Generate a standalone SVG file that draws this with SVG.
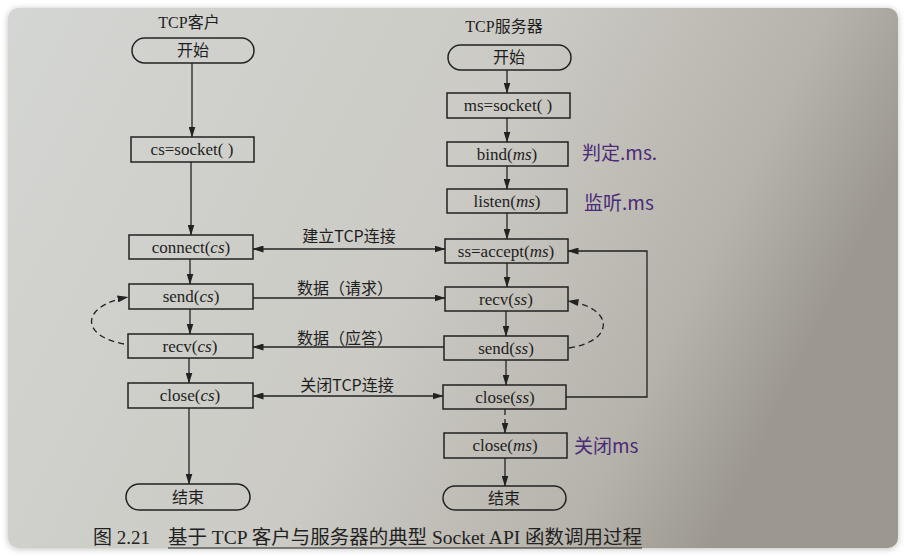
<svg xmlns="http://www.w3.org/2000/svg" width="906" height="556" viewBox="0 0 906 556">
  <style>
    .box { fill: none; stroke: #222; stroke-width: 1.5; }
    .ln { fill: none; stroke: #222; stroke-width: 1.3; }
    .dash { fill: none; stroke: #222; stroke-width: 1.3; stroke-dasharray: 6 4; }
    .t { font-family: "Liberation Serif", "Noto Sans CJK SC", serif; font-size: 17px; fill: #1e1e1e; text-anchor: middle; }
    .ttl { font-family: "Liberation Serif", "Noto Sans CJK SC", serif; font-size: 16px; fill: #1e1e1e; text-anchor: middle; }
    .cn { font-family: "Noto Sans CJK SC", sans-serif; font-size: 16px; fill: #1e1e1e; text-anchor: middle; }
    .it { font-style: italic; }
    .hand { font-family: "Noto Sans CJK SC", sans-serif; font-size: 19px; fill: #4a2b78; }
    .cap { font-family: "Liberation Serif", "Noto Sans CJK SC", serif; font-size: 19px; fill: #222; }
  </style>
  <defs>
    <linearGradient id="paper" x1="0" y1="0" x2="1" y2="0.3">
      <stop offset="0" stop-color="#d4d6d3"/>
      <stop offset="0.55" stop-color="#cbcac4"/>
      <stop offset="0.85" stop-color="#b6b3ab"/>
      <stop offset="1" stop-color="#9c988f"/>
    </linearGradient>
    <filter id="sh" x="-5%" y="-5%" width="110%" height="110%">
      <feDropShadow dx="0" dy="1" stdDeviation="3" flood-color="#000" flood-opacity="0.25"/>
    </filter>
    <marker id="ar" markerUnits="userSpaceOnUse" markerWidth="11" markerHeight="7" refX="10.5" refY="3.5" orient="auto-start-reverse">
      <path d="M0,0 L11,3.5 L0,7 z" fill="#222"/>
    </marker>
  </defs>

  <rect x="0" y="0" width="906" height="556" fill="#ffffff"/>
  <rect x="8" y="8" width="890" height="540" rx="10" fill="url(#paper)" filter="url(#sh)"/>

  <!-- titles -->
  <text class="ttl" x="189" y="28">TCP客户</text>
  <text class="ttl" x="504" y="32">TCP服务器</text>

  <!-- client nodes -->
  <g id="c-start"><rect class="box" x="132" y="38" width="122" height="25" rx="12.5"/><text class="cn" x="193" y="56">开始</text></g>
  <g id="c-socket"><rect class="box" x="131" y="137" width="123" height="25"/><text class="t" x="192" y="155">cs=socket( )</text></g>
  <g id="c-connect"><rect class="box" x="129" y="235" width="124" height="24"/><text class="t" x="191" y="253">connect(<tspan class="it">cs</tspan>)</text></g>
  <g id="c-send"><rect class="box" x="129" y="284" width="124" height="25"/><text class="t" x="191" y="302">send(<tspan class="it">cs</tspan>)</text></g>
  <g id="c-recv"><rect class="box" x="128" y="334" width="125" height="24"/><text class="t" x="190" y="352">recv(<tspan class="it">cs</tspan>)</text></g>
  <g id="c-close"><rect class="box" x="128" y="383" width="125" height="25"/><text class="t" x="190" y="401">close(<tspan class="it">cs</tspan>)</text></g>
  <g id="c-end"><rect class="box" x="126" y="484" width="124" height="26" rx="13"/><text class="cn" x="188" y="503">结束</text></g>

  <!-- server nodes -->
  <g id="s-start"><rect class="box" x="448" y="45" width="123" height="25" rx="12.5"/><text class="cn" x="509" y="63">开始</text></g>
  <g id="s-socket"><rect class="box" x="447" y="93" width="123" height="25"/><text class="t" x="508" y="111">ms=socket( )</text></g>
  <g id="s-bind"><rect class="box" x="447" y="142" width="121" height="24"/><text class="t" x="507" y="160">bind(<tspan class="it">ms</tspan>)</text></g>
  <g id="s-listen"><rect class="box" x="447" y="189" width="120" height="24"/><text class="t" x="507" y="207">listen(<tspan class="it">ms</tspan>)</text></g>
  <g id="s-accept"><rect class="box" x="445" y="239" width="123" height="24"/><text class="t" x="506" y="257">ss=accept(<tspan class="it">ms</tspan>)</text></g>
  <g id="s-recv"><rect class="box" x="445" y="287" width="123" height="24"/><text class="t" x="506" y="305">recv(<tspan class="it">ss</tspan>)</text></g>
  <g id="s-send"><rect class="box" x="444" y="336" width="124" height="24"/><text class="t" x="506" y="354">send(<tspan class="it">ss</tspan>)</text></g>
  <g id="s-close-ss"><rect class="box" x="443" y="385" width="123" height="24"/><text class="t" x="505" y="403">close(<tspan class="it">ss</tspan>)</text></g>
  <g id="s-close-ms"><rect class="box" x="444" y="433" width="123" height="25"/><text class="t" x="505" y="451">close(<tspan class="it">ms</tspan>)</text></g>
  <g id="s-end"><rect class="box" x="443" y="486" width="123" height="24" rx="12"/><text class="cn" x="504" y="504">结束</text></g>

  <!-- connectors -->
  <g id="connectors">
    <path class="ln" d="M192,63 V137" marker-end="url(#ar)"/>
    <path class="ln" d="M191,162 V235" marker-end="url(#ar)"/>
    <path class="ln" d="M190,259 V284" marker-end="url(#ar)"/>
    <path class="ln" d="M190,309 V334" marker-end="url(#ar)"/>
    <path class="ln" d="M189,358 V383" marker-end="url(#ar)"/>
    <path class="ln" d="M189,408 V484" marker-end="url(#ar)"/>

    <path class="ln" d="M507,70 V93" marker-end="url(#ar)"/>
    <path class="ln" d="M507,118 V142" marker-end="url(#ar)"/>
    <path class="ln" d="M507,166 V189" marker-end="url(#ar)"/>
    <path class="ln" d="M507,213 V239" marker-end="url(#ar)"/>
    <path class="ln" d="M507,263 V287" marker-end="url(#ar)"/>
    <path class="ln" d="M506,311 V336" marker-end="url(#ar)"/>
    <path class="ln" d="M506,360 V385" marker-end="url(#ar)"/>
    <path class="dash" d="M505,409 V433" stroke-dasharray="4 3" marker-end="url(#ar)"/>
    <path class="ln" d="M505,458 V486" marker-end="url(#ar)"/>

    <path class="ln" d="M253,249 H445" marker-start="url(#ar)" marker-end="url(#ar)"/>
    <path class="ln" d="M253,298 H445" marker-end="url(#ar)"/>
    <path class="ln" d="M444,347 H253" marker-end="url(#ar)"/>
    <path class="ln" d="M253,396 H443" marker-start="url(#ar)" marker-end="url(#ar)"/>
    <path class="ln" d="M566,397 H647 V251 H568" marker-end="url(#ar)"/>

    <path class="dash" d="M124,344 C80,336 80,306 128,297" marker-end="url(#ar)"/>
    <path class="dash" d="M569,348 C615,341 615,308 568,301" marker-end="url(#ar)"/>

    <text class="cn" x="349" y="242">建立TCP连接</text>
    <text class="cn" x="345" y="294">数据（请求）</text>
    <text class="cn" x="345" y="344">数据（应答）</text>
    <text class="cn" x="347" y="391">关闭TCP连接</text>
  </g>

  <!-- handwritten notes -->
  <text class="hand" x="582" y="160">判定.ms.</text>
  <text class="hand" x="584" y="210">监听.ms</text>
  <text class="hand" x="574" y="453">关闭ms</text>

  <!-- caption -->
  <text class="cap" x="93" y="544">图 2.21</text>
  <text class="cap" x="168" y="544" textLength="474" lengthAdjust="spacingAndGlyphs">基于 TCP 客户与服务器的典型 Socket API 函数调用过程</text>
  <line x1="168" y1="548" x2="642" y2="548" stroke="#222" stroke-width="1"/>
</svg>
